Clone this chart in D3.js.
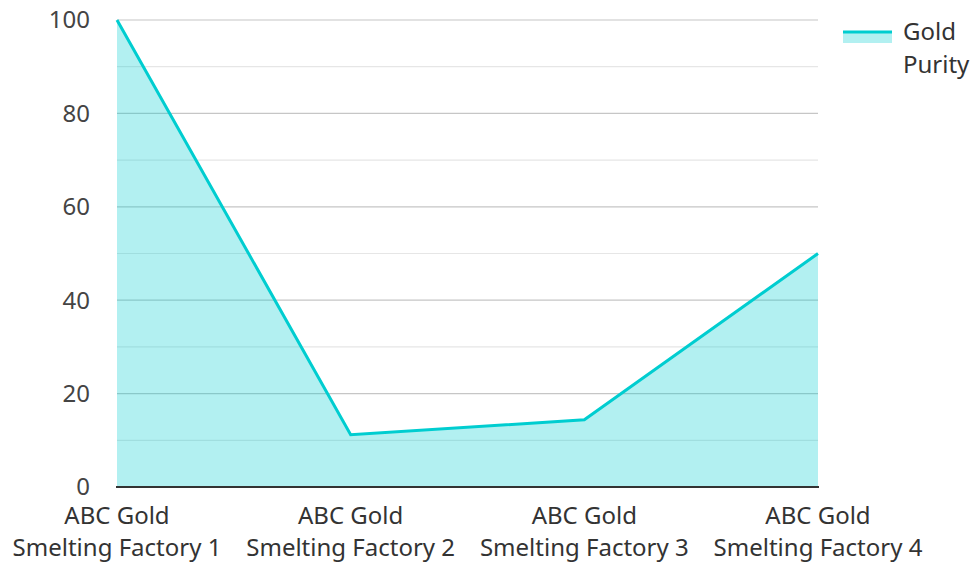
<!DOCTYPE html>
<html><head><meta charset="utf-8">
<script src="https://cdn.jsdelivr.net/npm/d3@7"></script>
<style>body{margin:0;background:#fff;} text{font-family:"Noto Sans",sans-serif;}</style>
</head><body>
<svg id="c" width="973" height="563"></svg>
<script>
const categories = ["ABC Gold Smelting Factory 1","ABC Gold Smelting Factory 2","ABC Gold Smelting Factory 3","ABC Gold Smelting Factory 4"];
const purity = [100, 11.2, 14.4, 50];
const yTicks = [0,20,40,60,80,100];
const minorTicks = [10,30,50,70,90];

const svg = d3.select("#c");
const x = d3.scalePoint().domain(categories).range([117, 818]);
const y = d3.scaleLinear().domain([0,100]).range([487, 20]);

svg.append("g").selectAll("line").data(minorTicks).join("line")
  .attr("x1",117).attr("x2",818).attr("y1",d=>y(d)).attr("y2",d=>y(d))
  .attr("stroke","#e6e6e6").attr("stroke-width",1.2);
svg.append("g").selectAll("line").data(yTicks.filter(d=>d>0)).join("line")
  .attr("x1",117).attr("x2",818).attr("y1",d=>y(d)).attr("y2",d=>y(d))
  .attr("stroke","#c6c6c6").attr("stroke-width",1.2);

const area = d3.area().x((d,i)=>x(categories[i])).y0(y(0)).y1(d=>y(d));
svg.append("path").datum(purity).attr("d",area).attr("fill","rgba(0,206,209,0.3)");
const line = d3.line().x((d,i)=>x(categories[i])).y(d=>y(d));
svg.append("path").datum(purity).attr("d",line).attr("fill","none")
  .attr("stroke","#00cdd0").attr("stroke-width",3).attr("stroke-linejoin","miter");

svg.append("line").attr("x1",116).attr("x2",819).attr("y1",487).attr("y2",487)
  .attr("stroke","#333").attr("stroke-width",2);

svg.append("g").selectAll("text").data(yTicks).join("text")
  .attr("x",90).attr("y",d=>y(d)).attr("dy","0.35em").attr("text-anchor","end")
  .attr("font-size",24).attr("fill","#444").text(d=>d);

const xl = svg.append("g").selectAll("text").data(categories).join("text")
  .attr("text-anchor","middle").attr("font-size",24).attr("fill","#333");
xl.each(function(d){
  const t = d3.select(this);
  const parts = [d.slice(0,8), d.slice(9)];
  parts.forEach((p,i)=>t.append("tspan").attr("x",x(d)).attr("y",524+i*32).text(p));
});

// legend
svg.append("rect").attr("x",843).attr("y",32).attr("width",49).attr("height",11).attr("fill","rgba(0,206,209,0.3)");
svg.append("line").attr("x1",843).attr("x2",892).attr("y1",32).attr("y2",32).attr("stroke","#00cdd0").attr("stroke-width",3);
const lt = svg.append("text").attr("font-size",24).attr("fill","#333");
lt.append("tspan").attr("x",903).attr("y",40).text("Gold");
lt.append("tspan").attr("x",903).attr("y",73).text("Purity");
</script>
</body></html>
